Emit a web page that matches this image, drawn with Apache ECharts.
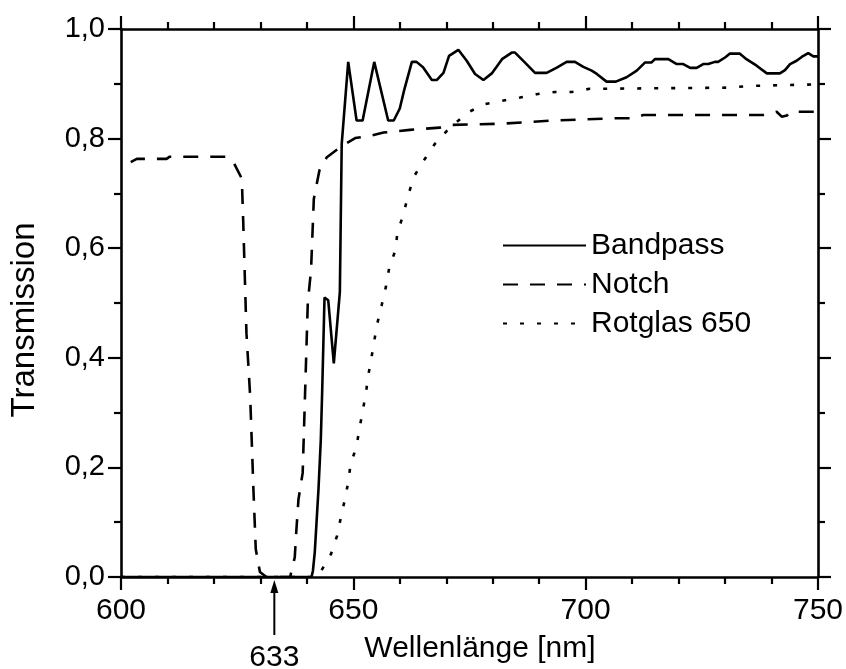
<!DOCTYPE html>
<html>
<head>
<meta charset="utf-8">
<script src="https://cdn.jsdelivr.net/npm/echarts@6/dist/echarts.min.js"></script>
<style>
html,body{margin:0;padding:0;background:#fff;}
#chart{width:846px;height:669px;}
</style>
</head>
<body>
<div id="chart"></div>
<script>
// ---- data (wavelength nm, transmission) ----
var bandpass = [[600,0],[641,0],[641.3,0.011],[641.7,0.045],[642.5,0.16],[643,0.25],[643.3,0.34],[643.8,0.51],[644.6,0.505],[645.8,0.39],[647.1,0.52],[647.5,0.79],[648.9,0.94],[650.7,0.833],[652,0.833],[654.5,0.94],[657.5,0.833],[658.7,0.833],[660,0.855],[660.9,0.887],[662.6,0.94],[663.6,0.94],[665,0.93],[666.9,0.907],[668,0.907],[669.4,0.92],[670.6,0.951],[672.6,0.962],[674.4,0.942],[676.2,0.918],[678,0.907],[679.8,0.919],[682,0.945],[684.1,0.957],[684.8,0.957],[686.9,0.939],[689.1,0.92],[691.6,0.92],[693.7,0.929],[695.9,0.94],[697.7,0.94],[699.5,0.931],[701.3,0.924],[702.4,0.918],[704.5,0.904],[706.5,0.904],[708.8,0.912],[711,0.924],[712.8,0.939],[714.2,0.939],[714.9,0.945],[717.8,0.945],[719.6,0.936],[721,0.936],[722.5,0.929],[723.9,0.929],[725.3,0.936],[726.4,0.936],[727.8,0.94],[728.5,0.94],[730,0.948],[731,0.955],[733.2,0.955],[734.6,0.945],[736.8,0.933],[739,0.919],[741.8,0.919],[742.9,0.925],[744,0.936],[745.4,0.942],[746.5,0.949],[747.9,0.956],[749,0.95],[750,0.95]];
var notch = [[602.1,0.757],[603.4,0.763],[609.8,0.763],[610.5,0.767],[622.7,0.767],[624.2,0.757],[626,0.727],[626.3,0.65],[627,0.445],[627.8,0.33],[628.5,0.16],[629,0.051],[629.9,0.009],[631.3,0],[636.4,0],[637.4,0.036],[637.7,0.08],[638.2,0.142],[639.1,0.19],[639.6,0.33],[640.2,0.5],[640.9,0.56],[641.5,0.69],[642.7,0.742],[644.3,0.766],[647.6,0.787],[650.4,0.801],[653.6,0.805],[656.5,0.811],[662.2,0.816],[668.6,0.82],[670.8,0.825],[681.6,0.827],[693,0.833],[706,0.837],[710.2,0.837],[712.4,0.843],[738.2,0.843],[741.1,0.849],[742.2,0.84],[743.3,0.842],[744,0.849],[750,0.849]];
var rotglas = [[600,0],[642,0],[643,0.01],[645.2,0.042],[646.5,0.075],[647.3,0.108],[648.2,0.142],[648.9,0.173],[649.4,0.205],[650.7,0.239],[651.3,0.27],[652,0.302],[652.7,0.335],[653.2,0.367],[653.9,0.4],[654.5,0.431],[655.2,0.464],[656.1,0.496],[657,0.529],[657.7,0.563],[659,0.595],[659.5,0.628],[660.7,0.66],[661.8,0.696],[663,0.73],[665,0.758],[667.6,0.791],[670.8,0.82],[674.7,0.848],[678.3,0.863],[682.1,0.869],[685.9,0.875],[689.4,0.881],[693.4,0.885],[697,0.885],[700.9,0.891],[704.5,0.891],[731,0.893],[735,0.896],[750,0.899]];
var seriesNames = ['Bandpass', 'Notch', 'Rotglas 650'];
var laserLine = 633;
var laserLabel = '633';
var xTitle = 'Wellenlänge [nm]';
var yTitle = 'Transmission';

var FONT = '"Liberation Sans", Arial, sans-serif';
var FS = 30;
var chart = echarts.init(document.getElementById('chart'), null, {renderer: 'canvas'});

function axisCommon(extra) {
  var base = {
    axisLine: {show: true, onZero: false, lineStyle: {color: '#000', width: 2.6}},
    axisTick: {show: true, inside: false, length: 13, lineStyle: {color: '#000', width: 2.2}},
    splitLine: {show: false},
    minorSplitLine: {show: false}
  };
  for (var k in extra) base[k] = extra[k];
  return base;
}
var minorX = {show: true, splitNumber: 5, length: 7, lineStyle: {color: '#000', width: 2.2}};
var minorY = {show: true, splitNumber: 2, length: 7, lineStyle: {color: '#000', width: 2.2}};

var option = {
  animation: false,
  backgroundColor: '#fff',
  grid: {left: 121, right: 28, top: 29, bottom: 91, containLabel: false},
  legend: {
    orient: 'vertical',
    left: 497,
    top: 225,
    itemWidth: 83,
    itemHeight: 14,
    itemGap: 8,
    data: seriesNames,
    itemStyle: {color: 'rgba(0,0,0,0)', borderWidth: 0, opacity: 0},
    textStyle: {fontFamily: FONT, fontSize: FS, color: '#000', lineHeight: 31, padding: [0, 0, 0, 0]}
  },
  xAxis: [
    axisCommon({
      type: 'value', min: 600, max: 750, interval: 50, position: 'bottom',
      minorTick: minorX,
      axisLabel: {show: true, color: '#000', fontFamily: FONT, fontSize: FS, margin: 19},
      name: xTitle, nameLocation: 'middle', nameGap: 57,
      nameTextStyle: {fontFamily: FONT, fontSize: FS, color: '#000', padding: [0, 0, 0, 21]}
    }),
    axisCommon({
      type: 'value', min: 600, max: 750, interval: 50, position: 'top',
      minorTick: minorX,
      axisLabel: {show: false}
    })
  ],
  yAxis: [
    axisCommon({
      type: 'value', min: 0, max: 1, interval: 0.2, position: 'left',
      minorTick: minorY,
      axisLabel: {show: true, color: '#000', fontFamily: FONT, fontSize: 29, margin: 16,
        formatter: function (v) { return v.toFixed(1).replace('.', ','); }},
      name: yTitle, nameLocation: 'middle', nameGap: 80, nameRotate: 90,
      nameTextStyle: {fontFamily: FONT, fontSize: 33, color: '#000', padding: [0, 34, 0, 0]}
    }),
    axisCommon({
      type: 'value', min: 0, max: 1, interval: 0.2, position: 'right',
      minorTick: minorY,
      axisLabel: {show: false}
    })
  ],
  series: [
    {name: seriesNames[0], type: 'line', data: bandpass, showSymbol: false, symbol: 'none',
      lineStyle: {color: '#000', width: 2.6, type: 'solid'}, itemStyle: {color: '#000'}},
    {name: seriesNames[1], type: 'line', data: notch, showSymbol: false, symbol: 'none',
      lineStyle: {color: '#000', width: 2.6, type: [15, 12]}, itemStyle: {color: '#000'}},
    {name: seriesNames[2], type: 'line', data: rotglas, showSymbol: false, symbol: 'none',
      lineStyle: {color: '#000', width: 2.6, type: [4, 13]}, itemStyle: {color: '#000'}}
  ]
};
chart.setOption(option);

// arrow annotation at the laser wavelength, positioned via the axis scale
var ax = chart.convertToPixel({xAxisIndex: 0}, laserLine);
var ay0 = chart.convertToPixel({yAxisIndex: 0}, 0);
chart.setOption({
  graphic: [
    {type: 'line', shape: {x1: ax, y1: ay0 + 14, x2: ax, y2: ay0 + 58}, style: {stroke: '#000', lineWidth: 2}},
    {type: 'polygon', shape: {points: [[ax, ay0 + 3], [ax - 4, ay0 + 16], [ax + 4, ay0 + 16]]}, style: {fill: '#000'}},
    {type: 'text', x: ax, y: ay0 + 81, style: {text: laserLabel, fontFamily: FONT, fontSize: FS, fill: '#000', align: 'center', verticalAlign: 'middle'}}
  ]
});
</script>
</body>
</html>
